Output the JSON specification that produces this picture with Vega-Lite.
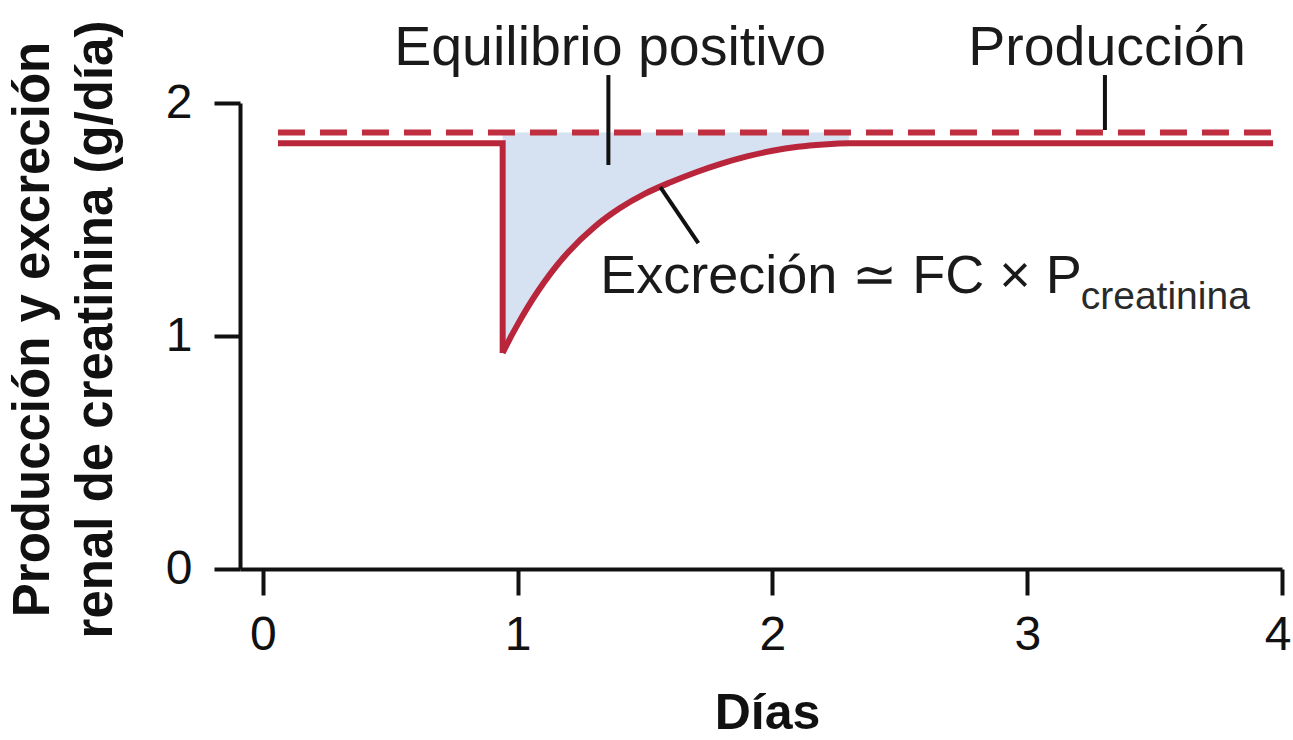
{
  "$schema": "https://vega.github.io/schema/vega-lite/v6.json",
  "autosize": "none",
  "width": 1042,
  "height": 466,
  "padding": {"left": 240, "top": 103, "right": 11, "bottom": 171},
  "background": "white",
  "config": {"view": {"stroke": null}, "font": "Liberation Sans"},
  "datasets": {
    "escalon": [
      {"i": 0, "dias": 0.059, "g": 1.827},
      {"i": 1, "dias": 0.941, "g": 1.827},
      {"i": 2, "dias": 0.941, "g": 0.927}
    ],
    "curva": [
      {"dias": 0.941, "g": 0.927},
      {"dias": 0.97, "g": 0.99},
      {"dias": 1.0, "g": 1.05},
      {"dias": 1.04, "g": 1.125},
      {"dias": 1.08, "g": 1.193},
      {"dias": 1.13, "g": 1.27},
      {"dias": 1.2, "g": 1.362},
      {"dias": 1.3, "g": 1.467},
      {"dias": 1.4, "g": 1.548},
      {"dias": 1.5, "g": 1.611},
      {"dias": 1.6, "g": 1.66},
      {"dias": 1.7, "g": 1.703},
      {"dias": 1.8, "g": 1.74},
      {"dias": 1.9, "g": 1.771},
      {"dias": 2.0, "g": 1.795},
      {"dias": 2.1, "g": 1.812},
      {"dias": 2.2, "g": 1.822},
      {"dias": 2.3, "g": 1.827},
      {"dias": 3.965, "g": 1.827}
    ],
    "relleno": [
      {"dias": 0.941, "g": 0.927},
      {"dias": 0.97, "g": 0.99},
      {"dias": 1.0, "g": 1.05},
      {"dias": 1.04, "g": 1.125},
      {"dias": 1.08, "g": 1.193},
      {"dias": 1.13, "g": 1.27},
      {"dias": 1.2, "g": 1.362},
      {"dias": 1.3, "g": 1.467},
      {"dias": 1.4, "g": 1.548},
      {"dias": 1.5, "g": 1.611},
      {"dias": 1.6, "g": 1.66},
      {"dias": 1.7, "g": 1.703},
      {"dias": 1.8, "g": 1.74},
      {"dias": 1.9, "g": 1.771},
      {"dias": 2.0, "g": 1.795},
      {"dias": 2.1, "g": 1.812},
      {"dias": 2.2, "g": 1.822},
      {"dias": 2.3, "g": 1.827}
    ],
    "produccion": [
      {"dias": 0.059, "g": 1.873},
      {"dias": 3.965, "g": 1.873}
    ],
    "guias": [
      {"dias": 1.356, "g": 2.12, "dias2": 1.356, "g2": 1.734},
      {"dias": 3.305, "g": 2.12, "dias2": 3.305, "g2": 1.884},
      {"dias": 1.56, "g": 1.639, "dias2": 1.709, "g2": 1.399}
    ],
    "etiquetas": [
      {"dias": 1.363, "g": 2.163, "texto": "Equilibrio positivo"},
      {"dias": 3.313, "g": 2.163, "texto": "Producción"}
    ],
    "formula": [
      {"dias": 1.324, "g": 1.185, "texto": "Excreción ≃ FC × P"}
    ],
    "subindice": [
      {"dias": 3.21, "g": 1.116, "texto": "creatinina"}
    ]
  },
  "encoding": {
    "x": {
      "field": "dias",
      "type": "quantitative",
      "scale": {"domain": [-0.09, 4], "nice": false, "zero": false},
      "axis": {
        "values": [0, 1, 2, 3, 4],
        "labelExpr": "format(datum.value, '.0f')",
        "grid": false,
        "labelFontSize": 48,
        "labelColor": "#111111",
        "labelPadding": 16,
        "labelFlush": true,
        "labelFlushOffset": 9,
        "labelOverlap": false,
        "tickSize": 26,
        "tickWidth": 4,
        "tickColor": "#111111",
        "domainWidth": 4,
        "domainColor": "#111111",
        "title": "Días",
        "titleFontSize": 50,
        "titleFontWeight": "bold",
        "titleColor": "#111111",
        "titleBaseline": "alphabetic",
        "titleX": 527,
        "titleY": 159
      }
    },
    "y": {
      "field": "g",
      "type": "quantitative",
      "scale": {"domain": [0, 2], "nice": false, "zero": false},
      "axis": {
        "values": [0, 1, 2],
        "labelExpr": "format(datum.value, '.0f')",
        "grid": false,
        "labelFontSize": 48,
        "labelColor": "#111111",
        "labelPadding": 22,
        "labelOverlap": false,
        "labelFlush": false,
        "tickSize": 26,
        "tickWidth": 4,
        "tickColor": "#111111",
        "domainWidth": 4,
        "domainColor": "#111111",
        "title": ["Producción y excreción", "renal de creatinina (g/día)"],
        "titleFontSize": 51,
        "titleFontWeight": "bold",
        "titleColor": "#111111",
        "titleAngle": 270,
        "titleAlign": "center",
        "titleBaseline": "alphabetic",
        "titleLineHeight": 63,
        "titleX": -192,
        "titleY": 226
      }
    }
  },
  "layer": [
    {
      "data": {"name": "relleno"},
      "mark": {"type": "area", "color": "#d6e1f1", "opacity": 1, "interpolate": "monotone"},
      "encoding": {
        "y2": {"datum": 1.873}
      }
    },
    {
      "data": {"name": "produccion"},
      "mark": {"type": "line", "color": "#bf2f40", "strokeWidth": 6, "strokeDash": [27, 15]},
      "encoding": {}
    },
    {
      "data": {"name": "escalon"},
      "mark": {"type": "line", "color": "#b9253a", "strokeWidth": 6, "strokeJoin": "miter"},
      "encoding": {
        "order": {"field": "i", "type": "quantitative"}
      }
    },
    {
      "data": {"name": "curva"},
      "mark": {"type": "line", "color": "#b9253a", "strokeWidth": 6, "strokeJoin": "miter", "interpolate": "monotone"},
      "encoding": {}
    },
    {
      "data": {"name": "guias"},
      "mark": {"type": "rule", "color": "#111111", "strokeWidth": 4},
      "encoding": {
        "x2": {"field": "dias2"},
        "y2": {"field": "g2"}
      }
    },
    {
      "data": {"name": "etiquetas"},
      "mark": {"type": "text", "fontSize": 55.5, "align": "center", "baseline": "alphabetic", "color": "#1a1a1a"},
      "encoding": {
        "text": {"field": "texto"}
      }
    },
    {
      "data": {"name": "formula"},
      "mark": {"type": "text", "fontSize": 54, "align": "left", "baseline": "alphabetic", "color": "#1a1a1a"},
      "encoding": {
        "text": {"field": "texto"}
      }
    },
    {
      "data": {"name": "subindice"},
      "mark": {"type": "text", "fontSize": 39, "align": "left", "baseline": "alphabetic", "color": "#2a2a2a"},
      "encoding": {
        "text": {"field": "texto"}
      }
    }
  ]
}
